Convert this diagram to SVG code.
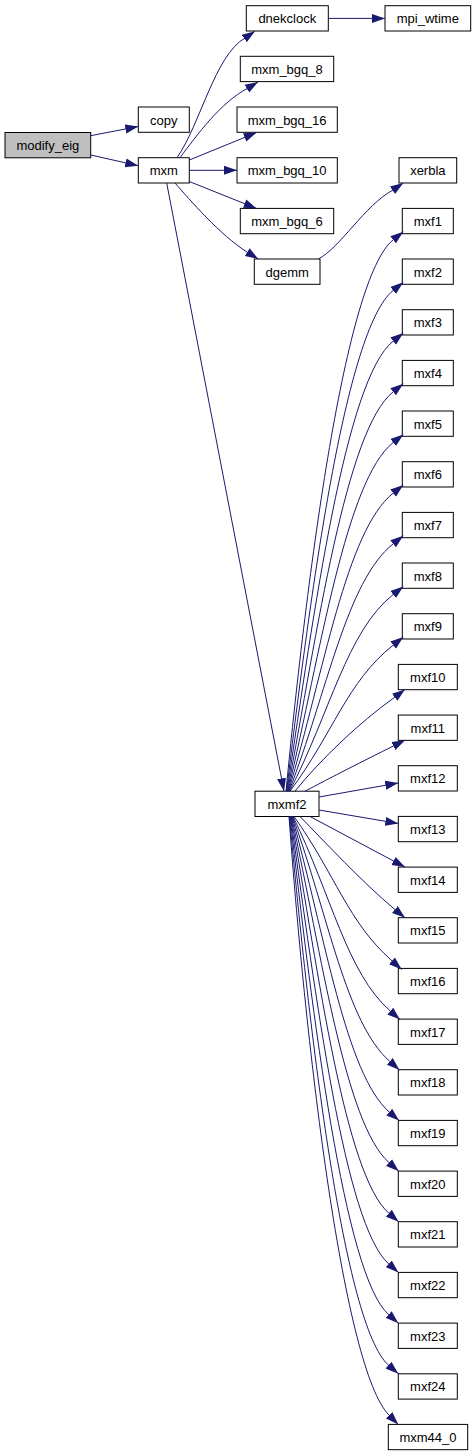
<svg xmlns="http://www.w3.org/2000/svg" width="476" height="1456" viewBox="0 0 476 1456">
<defs>
<style>
.n rect{fill:#fff;stroke:#000;stroke-width:1}
.n text{font-family:"Liberation Sans",Arial,sans-serif;font-size:13px;text-anchor:middle;fill:#000}
#edges path{fill:none;stroke:#191970;stroke-width:1;marker-end:url(#ah)}
</style>
<marker id="ah" markerUnits="userSpaceOnUse" markerWidth="13" markerHeight="10" refX="13" refY="5" orient="auto" viewBox="0 0 13 10"><path d="M0,0.5 L13,5 L0,9.5 z" fill="#191970"/></marker>
</defs>
<rect width="476" height="1456" fill="#fff"/>
<g id="node-modify_eig" class="n"><rect x="5" y="132.5" width="85.7" height="25.3" style="fill:#bfbfbf"/><text x="47.85" y="150">modify_eig</text></g>
<g id="node-copy" class="n"><rect x="138.3" y="107" width="51" height="25.3"/><text x="163.8" y="124.5">copy</text></g>
<g id="node-mxm" class="n"><rect x="138.3" y="157.7" width="51" height="25.3"/><text x="163.8" y="175.2">mxm</text></g>
<g id="node-dnekclock" class="n"><rect x="246.3" y="5.7" width="82" height="25.3"/><text x="287.3" y="23.2">dnekclock</text></g>
<g id="node-mpi_wtime" class="n"><rect x="385" y="5.7" width="85.7" height="25.3"/><text x="427.85" y="23.2">mpi_wtime</text></g>
<g id="node-mxm_bgq_8" class="n"><rect x="240.3" y="56.3" width="93.4" height="25.3"/><text x="287" y="73.8">mxm_bgq_8</text></g>
<g id="node-mxm_bgq_16" class="n"><rect x="237" y="107" width="100.3" height="25.3"/><text x="287.15" y="124.5">mxm_bgq_16</text></g>
<g id="node-mxm_bgq_10" class="n"><rect x="237" y="157.7" width="100.3" height="25.3"/><text x="287.15" y="175.2">mxm_bgq_10</text></g>
<g id="node-mxm_bgq_6" class="n"><rect x="240.3" y="208.4" width="93.4" height="25.3"/><text x="287" y="225.9">mxm_bgq_6</text></g>
<g id="node-dgemm" class="n"><rect x="254.3" y="259" width="65.7" height="25.3"/><text x="287.15" y="276.5">dgemm</text></g>
<g id="node-xerbla" class="n"><rect x="399" y="157.7" width="57.7" height="25.3"/><text x="427.85" y="175.2">xerbla</text></g>
<g id="node-mxmf2" class="n"><rect x="255" y="791.2" width="64" height="25.3"/><text x="287" y="808.7">mxmf2</text></g>
<g id="node-mxf1" class="n"><rect x="402.3" y="208.4" width="51" height="25.3"/><text x="427.8" y="225.9">mxf1</text></g>
<g id="node-mxf2" class="n"><rect x="402.3" y="259" width="51" height="25.3"/><text x="427.8" y="276.5">mxf2</text></g>
<g id="node-mxf3" class="n"><rect x="402.3" y="309.7" width="51" height="25.3"/><text x="427.8" y="327.2">mxf3</text></g>
<g id="node-mxf4" class="n"><rect x="402.3" y="360.4" width="51" height="25.3"/><text x="427.8" y="377.9">mxf4</text></g>
<g id="node-mxf5" class="n"><rect x="402.3" y="411" width="51" height="25.3"/><text x="427.8" y="428.5">mxf5</text></g>
<g id="node-mxf6" class="n"><rect x="402.3" y="461.7" width="51" height="25.3"/><text x="427.8" y="479.2">mxf6</text></g>
<g id="node-mxf7" class="n"><rect x="402.3" y="512.4" width="51" height="25.3"/><text x="427.8" y="529.9">mxf7</text></g>
<g id="node-mxf8" class="n"><rect x="402.3" y="563" width="51" height="25.3"/><text x="427.8" y="580.5">mxf8</text></g>
<g id="node-mxf9" class="n"><rect x="402.3" y="613.7" width="51" height="25.3"/><text x="427.8" y="631.2">mxf9</text></g>
<g id="node-mxf10" class="n"><rect x="398.3" y="664.4" width="59" height="25.3"/><text x="427.8" y="681.9">mxf10</text></g>
<g id="node-mxf11" class="n"><rect x="398.3" y="715.05" width="59" height="25.3"/><text x="427.8" y="732.55">mxf11</text></g>
<g id="node-mxf12" class="n"><rect x="398.3" y="765.7" width="59" height="25.3"/><text x="427.8" y="783.2">mxf12</text></g>
<g id="node-mxf13" class="n"><rect x="398.3" y="816.4" width="59" height="25.3"/><text x="427.8" y="833.9">mxf13</text></g>
<g id="node-mxf14" class="n"><rect x="398.3" y="867.1" width="59" height="25.3"/><text x="427.8" y="884.6">mxf14</text></g>
<g id="node-mxf15" class="n"><rect x="398.3" y="917.7" width="59" height="25.3"/><text x="427.8" y="935.2">mxf15</text></g>
<g id="node-mxf16" class="n"><rect x="398.3" y="968.4" width="59" height="25.3"/><text x="427.8" y="985.9">mxf16</text></g>
<g id="node-mxf17" class="n"><rect x="398.3" y="1019.1" width="59" height="25.3"/><text x="427.8" y="1036.6">mxf17</text></g>
<g id="node-mxf18" class="n"><rect x="398.3" y="1069.7" width="59" height="25.3"/><text x="427.8" y="1087.2">mxf18</text></g>
<g id="node-mxf19" class="n"><rect x="398.3" y="1120.4" width="59" height="25.3"/><text x="427.8" y="1137.9">mxf19</text></g>
<g id="node-mxf20" class="n"><rect x="398.3" y="1171.1" width="59" height="25.3"/><text x="427.8" y="1188.6">mxf20</text></g>
<g id="node-mxf21" class="n"><rect x="398.3" y="1221.7" width="59" height="25.3"/><text x="427.8" y="1239.2">mxf21</text></g>
<g id="node-mxf22" class="n"><rect x="398.3" y="1272.4" width="59" height="25.3"/><text x="427.8" y="1289.9">mxf22</text></g>
<g id="node-mxf23" class="n"><rect x="398.3" y="1323.1" width="59" height="25.3"/><text x="427.8" y="1340.6">mxf23</text></g>
<g id="node-mxf24" class="n"><rect x="398.3" y="1373.8" width="59" height="25.3"/><text x="427.8" y="1391.3">mxf24</text></g>
<g id="node-mxm44_0" class="n"><rect x="388.3" y="1424.4" width="79.4" height="25.3"/><text x="428" y="1441.9">mxm44_0</text></g>
<g id="edges">
<path d="M90.7,135.7 L138.3,126.5"/>
<path d="M90.7,155 L138.3,165.7"/>
<path d="M328.3,18.4 L385,18.4"/>
<path d="M177,157.7 C200,125 215,55 245,38 L255,31.2"/>
<path d="M180,157.7 C197,135 220,103 248,88 L258,82"/>
<path d="M189.3,160 L256.7,132.5"/>
<path d="M189.3,170.3 L237,170.3"/>
<path d="M189.3,181.5 L256.7,208.5"/>
<path d="M175,183 C190,200 220,235 247,252 L258.3,259"/>
<path d="M318.3,259 C340,248 365,205 393,190 L403.3,183"/>
<path d="M166.7,183 L284,791.2"/>
<path d="M286,791.2 C307.3,571.1 345.0,278.2 393.2,239.8 L403.3,231.7"/>
<path d="M286.5,791.2 C310.7,591.4 345.2,328.65 393.2,290.45 L403.3,282.35"/>
<path d="M287,791.2 C314.0,611.6 345.4,379.1 393.2,341.1 L403.3,333.0"/>
<path d="M287.5,791.2 C317.3,631.9 345.6,429.6 393.2,391.8 L403.3,383.7"/>
<path d="M288,791.2 C320.5,652.2 345.9,480.2 393.2,442.5 L403.3,434.4"/>
<path d="M288.5,791.2 C323.8,672.4 346.1,530.6 393.2,493.1 L403.3,485.0"/>
<path d="M289,791.2 C327.0,692.7 346.3,581.1 393.2,543.8 L403.3,535.7"/>
<path d="M289.5,791.2 C330.2,713.0 346.5,631.6 393.2,594.5 L403.3,586.4"/>
<path d="M290,791.2 C333.3,733.2 346.8,682.0 393.2,645.1 L403.3,637.0"/>
<path d="M295,791.2 C320,760 360,722 393.3,698.3 L405,689.4"/>
<path d="M305,791.2 C330,778 365,760 393.5,746 L405,740.2"/>
<path d="M319,797 L398.3,783"/>
<path d="M319,810 L398.3,823.5"/>
<path d="M310,816.5 L405,867.1"/>
<path d="M300,816.5 C325,842 362,882 394.9,909.5 L405,917.7"/>
<path d="M294,816.5 C335.3,874.5 347.9,922.0 391.95,960.8 L401.7,969.4"/>
<path d="M293,816.5 C331.3,894.6 346.5,972.5 390.25,1011.0 L400,1019.6"/>
<path d="M292.5,816.5 C328.2,914.8 346.0,1022.9 389.75,1061.4 L399.5,1070"/>
<path d="M292,816.5 C325.0,935.0 345.5,1073.5 389.25,1112.0 L399,1120.6"/>
<path d="M291.5,816.5 C321.9,955.2 345.15,1124.0 389.05,1162.6 L398.8,1171.2"/>
<path d="M291,816.5 C318.8,975.5 344.85,1174.5 388.85,1213.2 L398.6,1221.8"/>
<path d="M290.5,816.5 C315.7,995.8 344.55,1225.0 388.75,1263.9 L398.5,1272.5"/>
<path d="M290,816.5 C312.6,1016.0 344.25,1275.5 388.65,1314.6 L398.4,1323.2"/>
<path d="M289.5,816.5 C309.4,1036.3 343.95,1326.0 388.55,1365.2 L398.3,1373.8"/>
<path d="M289,816.5 C306.4,1056.3 344.1,1370.2 389.1,1415.2 L398.3,1424.4"/>
</g>
</svg>
